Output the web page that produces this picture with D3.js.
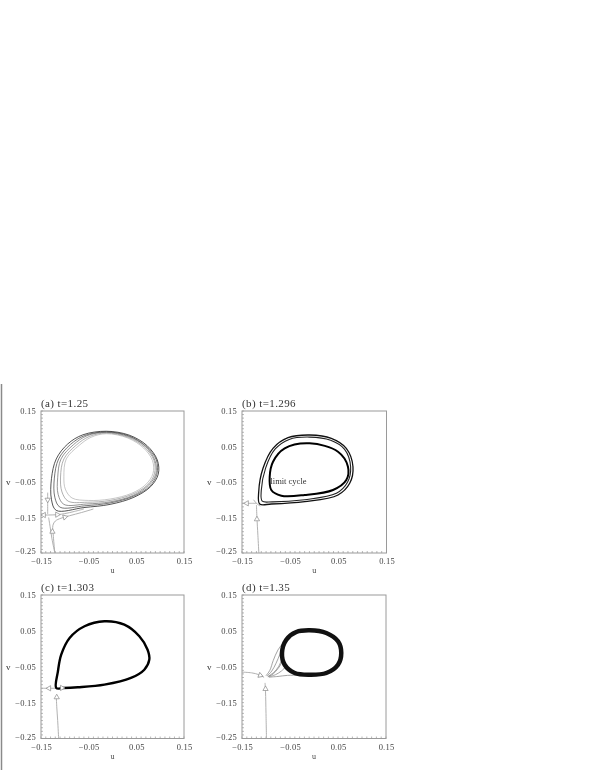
<!DOCTYPE html>
<html><head><meta charset="utf-8">
<script src="https://cdn.jsdelivr.net/npm/d3@7"></script>
<style>
html,body{margin:0;padding:0;background:#fff;}
svg{display:block;filter:grayscale(1);}
text{font-family:"Liberation Serif","DejaVu Serif",serif;}
</style></head>
<body>
<svg id="chart" width="595" height="770"></svg>
<script>
// ---------------- data ----------------
const titles = ["(a) t=1.25", "(b) t=1.296", "(c) t=1.303", "(d) t=1.35"];
const xTicks = [-0.15, -0.05, 0.05, 0.15];
const yTicks = [0.15, 0.05, -0.05, -0.15, -0.25];
const xLabel = "u";
const yLabel = "v";
const cycleLabel = "limit cycle";

// panel (a): bundle of trajectories winding onto the cycle (inner -> outer)
const loopA1 = [[-0.013,0.086],[0.032,0.074],[0.065,0.046],[0.084,0.010],[0.085,-0.026],[0.070,-0.057],[0.040,-0.082],[-0.005,-0.098],[-0.050,-0.102],[-0.085,-0.095],[-0.099,-0.070],[-0.102,-0.035],[-0.097,0.015],[-0.070,0.053],[-0.045,0.076]];
const loopA2 = [[-0.013,0.088],[0.033,0.076],[0.067,0.048],[0.087,0.011],[0.088,-0.027],[0.073,-0.059],[0.041,-0.085],[-0.005,-0.102],[-0.053,-0.107],[-0.093,-0.104],[-0.106,-0.078],[-0.109,-0.036],[-0.102,0.015],[-0.076,0.054],[-0.049,0.078]];
const loopA3 = [[-0.013,0.090],[0.034,0.078],[0.069,0.050],[0.089,0.011],[0.091,-0.027],[0.075,-0.060],[0.043,-0.088],[-0.005,-0.106],[-0.055,-0.112],[-0.102,-0.113],[-0.114,-0.085],[-0.115,-0.038],[-0.108,0.015],[-0.082,0.055],[-0.054,0.080]];
const loopA4 = [[-0.013,0.091],[0.034,0.080],[0.070,0.051],[0.092,0.012],[0.093,-0.028],[0.078,-0.062],[0.044,-0.090],[-0.005,-0.109],[-0.058,-0.117],[-0.110,-0.121],[-0.121,-0.093],[-0.122,-0.039],[-0.113,0.015],[-0.088,0.056],[-0.058,0.081]];
const loopA5 = [[-0.013,0.093],[0.035,0.082],[0.072,0.053],[0.094,0.012],[0.096,-0.028],[0.080,-0.063],[0.045,-0.093],[-0.005,-0.113],[-0.060,-0.122],[-0.118,-0.130],[-0.128,-0.100],[-0.128,-0.040],[-0.118,0.015],[-0.094,0.057],[-0.062,0.083]];

// panel (b)
const cycleB = [[-0.0095,0.059],[0.0493,0.0354],[0.070,-0.0069],[0.0665,-0.0444],[0.0389,-0.0725],[-0.0198,-0.0866],[-0.0684,-0.0886],[-0.0892,-0.0725],[-0.0925,-0.0351],[-0.0856,0.0072],[-0.0614,0.0449]];
const outerB1 = [[-0.0095,0.0824],[0.0354,0.0731],[0.0665,0.0449],[0.0804,-0.0069],[0.0736,-0.0537],[0.0493,-0.0866],[-0.0198,-0.1055],[-0.0892,-0.112],[-0.1133,-0.112],[-0.1153,-0.0773],[-0.1064,-0.0114],[-0.0856,0.0449],[-0.0545,0.0748]];
const outerB2 = [[-0.0095,0.0765],[0.0340,0.0675],[0.0630,0.0420],[0.0755,-0.0070],[0.0690,-0.0510],[0.0460,-0.0820],[-0.0200,-0.1000],[-0.0870,-0.1060],[-0.1080,-0.1040],[-0.1100,-0.0740],[-0.1010,-0.0110],[-0.0810,0.0430],[-0.0520,0.0700]];

// panel (c): homoclinic loop
const cycleC = [[-0.118,-0.1092],[-0.1145,-0.0627],[-0.1076,-0.0164],[-0.090,0.0302],[-0.0587,0.0628],[-0.0169,0.0767],[0.0249,0.0672],[0.0563,0.0349],[0.0736,-0.0025],[0.0772,-0.0303],[0.0667,-0.0582],[0.0387,-0.0813],[-0.0169,-0.100],[-0.0727,-0.1072],[-0.104,-0.1092]];

// panel (d)
const cycleD = [[-0.009,0.0516],[0.0256,0.0441],[0.050,0.021],[0.0568,-0.0116],[0.050,-0.0443],[0.0256,-0.0674],[-0.009,-0.0721],[-0.0402,-0.0674],[-0.0611,-0.0443],[-0.0667,-0.0116],[-0.0577,0.0254],[-0.0369,0.0469]];
const fanD = [
  [[-0.100,-0.075],[-0.092,-0.060],[-0.085,-0.033],[-0.075,-0.003],[-0.061,0.021],[-0.045,0.038]],
  [[-0.098,-0.076],[-0.088,-0.062],[-0.079,-0.040],[-0.071,-0.015],[-0.065,0.005]],
  [[-0.096,-0.078],[-0.085,-0.070],[-0.075,-0.055],[-0.068,-0.040],[-0.065,-0.020]],
  [[-0.096,-0.077],[-0.084,-0.066],[-0.074,-0.050],[-0.068,-0.032]],
  [[-0.094,-0.078],[-0.080,-0.072],[-0.068,-0.062],[-0.060,-0.052]],
  [[-0.094,-0.079],[-0.075,-0.077],[-0.055,-0.074],[-0.035,-0.074]]
];

// manifolds of the saddle (light grey)
const manA = [
  [[-0.150,-0.143],[-0.135,-0.143],[-0.115,-0.142],[-0.100,-0.139],[-0.080,-0.133],[-0.060,-0.126]],
  [[-0.121,-0.250],[-0.124,-0.204],[-0.125,-0.172],[-0.120,-0.160],[-0.108,-0.152],[-0.090,-0.145],[-0.065,-0.136],[-0.040,-0.126]],
  [[-0.121,-0.250],[-0.127,-0.210],[-0.131,-0.175],[-0.134,-0.150]],
  [[-0.136,-0.080],[-0.136,-0.110],[-0.136,-0.140]]
];
const manB = [
  [[-0.150,-0.110],[-0.135,-0.110],[-0.120,-0.110]],
  [[-0.115,-0.250],[-0.117,-0.200],[-0.119,-0.150],[-0.120,-0.115]],
  [[-0.126,-0.100],[-0.120,-0.110],[-0.112,-0.118]]
];
const manC = [
  [[-0.150,-0.110],[-0.135,-0.110],[-0.118,-0.110]],
  [[-0.113,-0.250],[-0.115,-0.200],[-0.117,-0.160],[-0.118,-0.133]]
];
const manD = [
  [[-0.150,-0.065],[-0.130,-0.067],[-0.115,-0.072],[-0.104,-0.080]],
  [[-0.099,-0.250],[-0.100,-0.180],[-0.101,-0.120],[-0.102,-0.095]]
];

// arrowheads: [u, v, direction in degrees (0 = up, 90 = right)]
const arrA = [[-0.144,-0.143,-90],[-0.116,-0.142,90],[-0.126,-0.190,0],[-0.136,-0.100,180],[-0.100,-0.149,75]];
const arrB = [[-0.140,-0.110,-90],[-0.119,-0.155,0]];
const arrC = [[-0.133,-0.110,-90],[-0.117,-0.135,0],[-0.106,-0.109,90]];
const arrD = [[-0.112,-0.074,110],[-0.101,-0.112,0]];

// ---------------- drawing ----------------
const svg = d3.select("#chart");

// left page rule
svg.append("line").attr("x1",1.5).attr("x2",1.5).attr("y1",384).attr("y2",770)
  .attr("stroke","#8a8a8a").attr("stroke-width",1.5);

const layout = [
  {x0:41,  y0:411, w:143,   h:142},
  {x0:242, y0:411, w:144.5, h:142},
  {x0:41,  y0:595, w:143,   h:143.5},
  {x0:242, y0:595, w:144,   h:143.5}
];

const minorY = d3.range(-25, 16).map(d => d/100);
const minorX = d3.range(-15, 16).map(d => d/100);

function drawPanel(i, draw) {
  const L = layout[i];
  const x = d3.scaleLinear().domain([-0.15,0.15]).range([L.x0, L.x0+L.w]);
  const y = d3.scaleLinear().domain([-0.25,0.15]).range([L.y0+L.h, L.y0]);
  const g = svg.append("g");
  const clipId = "clip"+i;
  g.append("clipPath").attr("id",clipId).append("rect")
    .attr("x",L.x0).attr("y",L.y0).attr("width",L.w).attr("height",L.h);

  // frame
  g.append("rect").attr("x",L.x0).attr("y",L.y0).attr("width",L.w).attr("height",L.h)
    .attr("fill","none").attr("stroke","#9a9a9a").attr("stroke-width",1);

  // minor ticks
  g.selectAll(".my").data(minorY).join("line")
    .attr("x1",L.x0).attr("x2",L.x0+2).attr("y1",d=>y(d)).attr("y2",d=>y(d))
    .attr("stroke","#999").attr("stroke-width",0.7);
  g.selectAll(".mx").data(minorX).join("line")
    .attr("y1",L.y0+L.h).attr("y2",L.y0+L.h-2).attr("x1",d=>x(d)).attr("x2",d=>x(d))
    .attr("stroke","#999").attr("stroke-width",0.7);

  // axes (labels)
  const ay = g.append("g").attr("transform",`translate(${L.x0},0)`)
    .call(d3.axisLeft(y).tickValues(yTicks).tickSize(0).tickPadding(5)
      .tickFormat(d => d3.format(".2f")(d).replace("-", "\u2212")));
  const ax = g.append("g").attr("transform",`translate(0,${L.y0+L.h})`)
    .call(d3.axisBottom(x).tickValues(xTicks).tickSize(0).tickPadding(5)
      .tickFormat(d => d3.format(".2f")(d).replace("-", "\u2212")));
  [ay, ax].forEach(a => {
    a.select(".domain").remove();
    a.selectAll("text").attr("font-size",8.5).attr("fill","#444").attr("letter-spacing",0.2)
      .attr("font-family",'"Liberation Serif","DejaVu Serif",serif');
  });
  // keep lowest y label clear of the first x label
  ay.selectAll(".tick").filter(d => d === -0.25).select("text").attr("dy","0.1em");

  // axis titles
  g.append("text").attr("x", L.x0 - 35).attr("y", y(-0.05)).attr("dy","0.32em")
    .attr("font-size",9).attr("fill","#333").text(yLabel);
  g.append("text").attr("x", L.x0 + L.w*0.5).attr("y", L.y0+L.h+20)
    .attr("text-anchor","middle").attr("font-size",8).attr("fill","#444").text(xLabel);

  // panel title
  g.append("text").attr("x", L.x0).attr("y", L.y0-4)
    .attr("font-size",11).attr("letter-spacing",0.4).attr("fill","#333").text(titles[i]);

  const plot = g.append("g").attr("clip-path",`url(#${clipId})`);
  const closed = d3.line().x(d=>x(d[0])).y(d=>y(d[1])).curve(d3.curveCatmullRomClosed.alpha(0.5));
  const open = d3.line().x(d=>x(d[0])).y(d=>y(d[1])).curve(d3.curveCatmullRom.alpha(0.5));
  draw(plot, x, y, closed, open);
}

function manifolds(plot, list, open) {
  plot.selectAll(null).data(list).join("path")
    .attr("d", open).attr("fill","none").attr("stroke","#a8a8a8").attr("stroke-width",0.9);
}
function arrows(plot, list, x, y) {
  plot.selectAll(null).data(list).join("path")
    .attr("d", d3.symbol(d3.symbolTriangle, 12)())
    .attr("transform", d => `translate(${x(d[0])},${y(d[1])}) rotate(${d[2]})`)
    .attr("fill","#fff").attr("stroke","#8a8a8a").attr("stroke-width",0.7);
}

// (a)
drawPanel(0, (plot, x, y, closed, open) => {
  manifolds(plot, manA, open);
  const loops = [loopA1, loopA2, loopA3, loopA4, loopA5];
  const cols = ["#b4b4b4","#949494","#717171","#4a4a4a","#1a1a1a"];
  plot.selectAll(null).data(loops).join("path")
    .attr("d", closed).attr("fill","none")
    .attr("stroke",(d,k)=>cols[k]).attr("stroke-width",0.75);
  arrows(plot, arrA, x, y);
});

// (b)
drawPanel(1, (plot, x, y, closed, open) => {
  manifolds(plot, manB, open);
  plot.append("path").attr("d", closed(outerB1)).attr("fill","none").attr("stroke","#111").attr("stroke-width",1.3);
  plot.append("path").attr("d", closed(outerB2)).attr("fill","none").attr("stroke","#222").attr("stroke-width",1.1);
  plot.append("path").attr("d", closed(cycleB)).attr("fill","none").attr("stroke","#000").attr("stroke-width",2);
  arrows(plot, arrB, x, y);
  plot.append("text").attr("x", x(-0.091)).attr("y", y(-0.05)+2)
    .attr("font-size",8.5).attr("fill","#333").text(cycleLabel);
});

// (c)
drawPanel(2, (plot, x, y, closed, open) => {
  manifolds(plot, manC, open);
  plot.append("path").attr("d", closed(cycleC)).attr("fill","none").attr("stroke","#000").attr("stroke-width",2.4);
  arrows(plot, arrC, x, y);
});

// (d)
drawPanel(3, (plot, x, y, closed, open) => {
  manifolds(plot, manD, open);
  plot.selectAll(null).data(fanD).join("path")
    .attr("d", open).attr("fill","none").attr("stroke","#8c8c8c").attr("stroke-width",0.8);
  plot.append("path").attr("d", closed(cycleD)).attr("fill","none").attr("stroke","#111").attr("stroke-width",4.5);
  arrows(plot, arrD, x, y);
});
</script>
</body></html>
